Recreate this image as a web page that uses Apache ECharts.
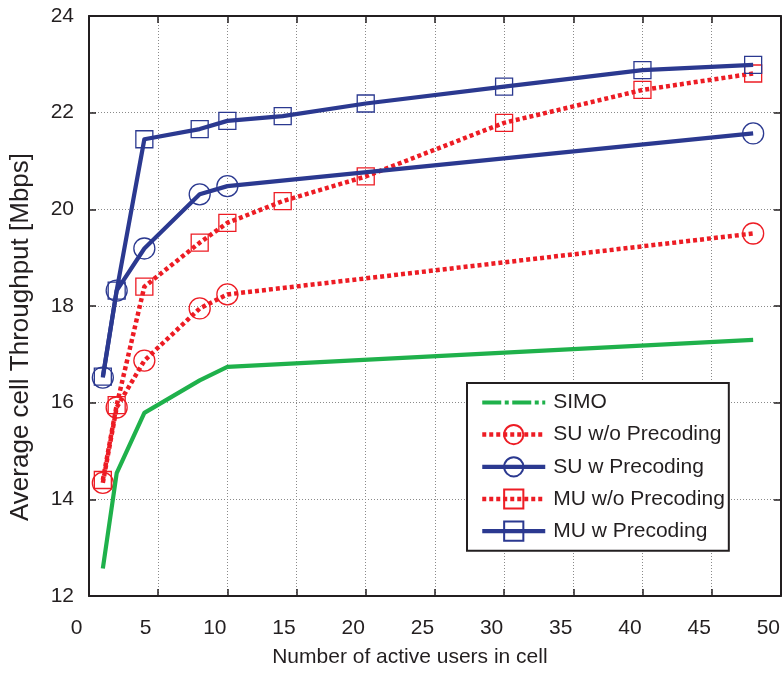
<!DOCTYPE html>
<html>
<head>
<meta charset="utf-8">
<script src="https://cdn.jsdelivr.net/npm/echarts@6/dist/echarts.min.js"></script>
<style>
html,body{margin:0;padding:0;background:#fff;}
#chart{width:783px;height:673px;}
</style>
</head>
<body>
<div id="chart"></div>
<script>
// ---- data ----
const usersMU = [1, 2, 4, 8, 10, 14, 20, 30, 40, 48];
const muWPrecoding = [16.54, 18.32, 21.45, 21.66, 21.83, 21.93, 22.19, 22.54, 22.88, 22.99];
const muWoPrecoding = [14.40, 15.95, 18.40, 19.31, 19.72, 20.17, 20.68, 21.79, 22.47, 22.81];
const usersSU = [1, 2, 4, 8, 10, 48];
const suWPrecoding = [16.52, 18.32, 19.19, 20.31, 20.48, 21.57];
const suWoPrecoding = [14.34, 15.90, 16.87, 17.95, 18.24, 19.50];
const usersSIMO = [1, 2, 4, 8, 10, 48];
const simo = [12.57, 14.54, 15.79, 16.46, 16.74, 17.30];
const seriesNames = ['SIMO', 'SU w/o Precoding', 'SU w Precoding', 'MU w/o Precoding', 'MU w Precoding'];
const xTitle = 'Number of active users in cell';
const yTitle = 'Average cell Throughput [Mbps]';

// ---- styles ----
const BLUE = '#2b3990', RED = '#ed1c24', GREEN = '#1fb14b', INK = '#231f20';
const FONT = '"Liberation Sans", Arial, Helvetica, sans-serif';
const pair = (xs, ys) => xs.map((x, i) => [x, ys[i]]);
const dotted = [4, 3];

const chart = echarts.init(document.getElementById('chart'), null, {renderer: 'canvas'});

function mkSeries(name, xs, ys, color, symbol, size, dash) {
  return {
    name: name, type: 'line', data: pair(xs, ys),
    xAxisIndex: 0, yAxisIndex: 0,
    color: color,
    symbol: symbol, symbolSize: size, showSymbol: symbol !== 'none',
    lineStyle: {color: color, width: dash ? 4.5 : 4.2, type: dash || 'solid', cap: 'butt', join: 'round'},
    itemStyle: {color: 'rgba(0,0,0,0)', borderColor: color, borderWidth: 1.3},
    emphasis: {disabled: true}, animation: false, z: dash ? 3 : 4
  };
}

const axisTextStyle = {color: INK, fontFamily: FONT, fontSize: 21};

const option = {
  animation: false,
  backgroundColor: '#fff',
  grid: {left: 89, right: 2, top: 16, bottom: 77, containLabel: false},
  xAxis: [{
    type: 'value', min: 0, max: 50, interval: 5, position: 'bottom',
    name: xTitle, nameLocation: 'middle', nameGap: 51,
    nameTextStyle: {color: INK, fontFamily: FONT, fontSize: 21, padding: [0, 50, 0, 0]},
    axisLine: {show: true, onZero: false, lineStyle: {color: INK, width: 2}},
    axisTick: {show: true, inside: true, length: 7, lineStyle: {color: INK, width: 1.5}},
    axisLabel: Object.assign({margin: 22, padding: [0, 25, 0, 0], showMinLabel: true, showMaxLabel: true}, axisTextStyle),
    splitLine: {show: true, lineStyle: {color: '#8a8a8a', width: 1, type: [1, 2]}}
  }, {
    type: 'value', min: 0, max: 50, interval: 5, position: 'top',
    axisLine: {show: true, onZero: false, lineStyle: {color: INK, width: 2}},
    axisTick: {show: true, inside: true, length: 7, lineStyle: {color: INK, width: 1.5}},
    axisLabel: {show: false}, splitLine: {show: false}
  }],
  yAxis: [{
    type: 'value', min: 12, max: 24, interval: 2, position: 'left',
    name: yTitle, nameLocation: 'middle', nameGap: 55, nameRotate: 90,
    nameTextStyle: {color: INK, fontFamily: FONT, fontSize: 26, padding: [0, 62, 0, 0]},
    axisLine: {show: true, onZero: false, lineStyle: {color: INK, width: 2}},
    axisTick: {show: true, inside: true, length: 7, lineStyle: {color: INK, width: 1.5}},
    axisLabel: Object.assign({margin: 15}, axisTextStyle),
    splitLine: {show: true, lineStyle: {color: '#8a8a8a', width: 1, type: [1, 2]}}
  }, {
    type: 'value', min: 12, max: 24, interval: 2, position: 'right',
    axisLine: {show: true, onZero: false, lineStyle: {color: INK, width: 2}},
    axisTick: {show: true, inside: true, length: 7, lineStyle: {color: INK, width: 1.5}},
    axisLabel: {show: false}, splitLine: {show: false}
  }],
  legend: {
    show: true, orient: 'vertical', left: 467, top: 383,
    itemWidth: 63, itemHeight: 24, itemGap: 11,
    padding: [9, 4, 9, 13],
    backgroundColor: '#fff', borderColor: INK, borderWidth: 2, borderRadius: 0,
    textStyle: {color: INK, fontFamily: FONT, fontSize: 21, padding: [0, 0, 0, 3]},
    selectedMode: false,
    data: [
      {name: seriesNames[0], lineStyle: {type: [19, 3.5, 4, 3.5], width: 4}, itemStyle: {color: 'rgba(0,0,0,0)', borderColor: 'rgba(0,0,0,0)', borderWidth: 0, opacity: 0}},
      {name: seriesNames[1], lineStyle: {width: 4.5, type: dotted}},
      {name: seriesNames[2], lineStyle: {width: 4.2, type: 'solid'}},
      {name: seriesNames[3], lineStyle: {width: 4.5, type: dotted}},
      {name: seriesNames[4], lineStyle: {width: 4.2, type: 'solid'}}
    ]
  },
  series: [
    mkSeries(seriesNames[0], usersSIMO, simo, GREEN, 'none', 0, null),
    mkSeries(seriesNames[1], usersSU, suWoPrecoding, RED, 'circle', 21, dotted),
    mkSeries(seriesNames[2], usersSU, suWPrecoding, BLUE, 'circle', 21, null),
    mkSeries(seriesNames[3], usersMU, muWoPrecoding, RED, 'rect', 17, dotted),
    mkSeries(seriesNames[4], usersMU, muWPrecoding, BLUE, 'rect', 17, null)
  ]
};
chart.setOption(option);
</script>
</body>
</html>
